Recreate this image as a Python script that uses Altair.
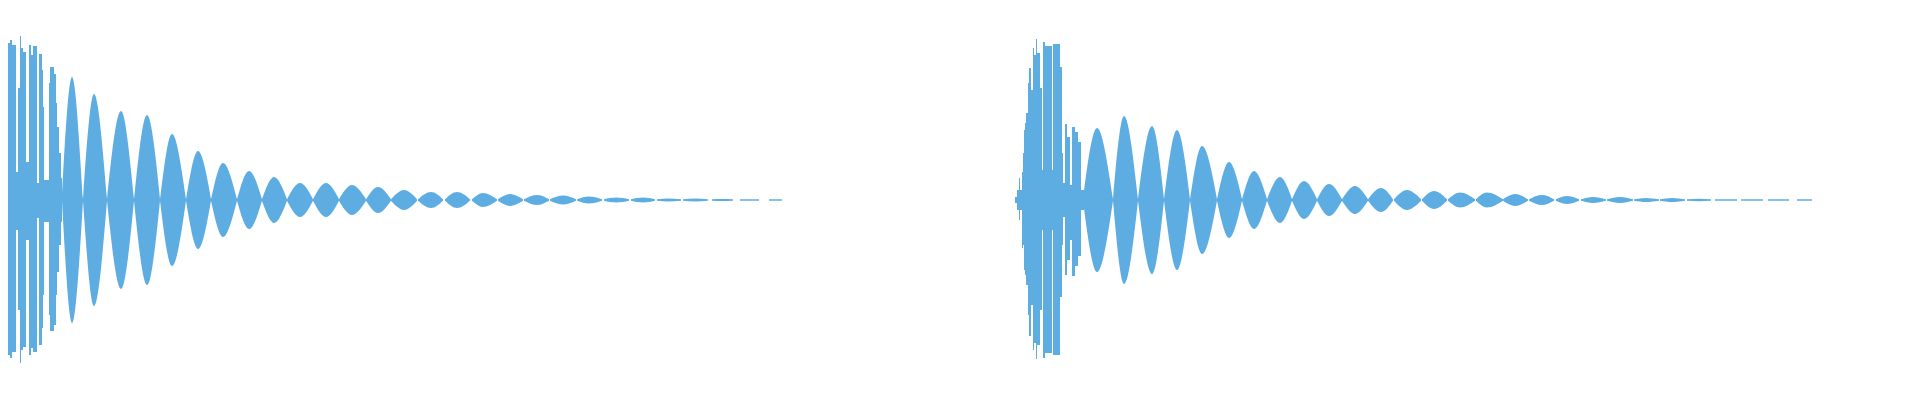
import altair as alt
import pandas as pd

COLOR = "#5DADE2"

# ---- Waveform 1: dense onset (column spans, top / bottom amplitude in px) ----
N1_X0 = [0, 1, 2, 4, 5, 7, 8, 10, 12, 16, 18, 20, 21, 23, 26, 29, 31, 33, 37, 39, 42, 43, 44, 49, 50, 54, 56, 57, 59, 61]
N1_X1 = [1, 2, 4, 5, 7, 8, 10, 12, 16, 18, 20, 21, 23, 26, 29, 31, 33, 37, 39, 42, 43, 44, 49, 50, 54, 56, 57, 59, 61, 62]
N1_TOP = [130, 171, 60, 74, 155, 166, 157, 160, 155, 28, 112, 164, 152, 148, 38, 155, 145, 154, 17, 146, 130, 93, 20, 117, 133, 126, 97, 73, 47, 22]
N1_BOT = [130, 170, 55, 72, 153, 165, 155, 158, 152, 30, 110, 163, 150, 147, 40, 155, 148, 152, 18, 145, 128, 95, 22, 115, 131, 125, 95, 72, 45, 22]

# ---- Waveform 1: decaying beat lobes (start, peak, end, peak amplitude) ----
L1_START = [62, 83, 107, 134, 160, 186, 211, 237, 262, 287, 313, 339, 366, 391, 418, 445, 472, 498, 524, 550, 577, 604, 631, 657, 683, 712, 740, 769]
L1_PEAK = [72, 94, 121, 147, 172, 198, 223, 249, 274, 300, 326, 352, 378, 404, 431, 457, 483, 510, 537, 563, 589, 616, 643, 668, 695, 722, 750, 775]
L1_END = [83, 107, 134, 160, 186, 211, 237, 262, 287, 313, 339, 366, 391, 417, 443, 470, 497, 523, 549, 576, 602, 629, 655, 681, 708, 733, 759, 782]
L1_AMP = [123, 106, 89, 85, 66, 49, 37, 29, 23, 17, 17, 15, 13, 10, 8, 8, 7, 6, 5, 4.5, 3.5, 2.5, 2.5, 1.5, 1.5, 1, 0.7, 0.7]

# ---- Waveform 2: dense onset ----
N2_X0 = [1015, 1017, 1019, 1020, 1022, 1023, 1024, 1025, 1026, 1028, 1029, 1031, 1033, 1034, 1036, 1037, 1040, 1042, 1043, 1045, 1052, 1053, 1060, 1062, 1063, 1065, 1067, 1070, 1072, 1075, 1078, 1081]
N2_X1 = [1017, 1019, 1020, 1022, 1023, 1024, 1025, 1026, 1028, 1029, 1031, 1033, 1034, 1036, 1037, 1040, 1042, 1043, 1045, 1052, 1053, 1060, 1062, 1063, 1065, 1067, 1070, 1072, 1075, 1078, 1081, 1084]
N2_TOP = [3, 10, 22, 10, 28, 47, 70, 77, 87, 117, 132, 110, 152, 145, 161, 147, 112, 30, 158, 154, 30, 156, 133, 47, 17, 76, 63, 15, 73, 68, 58, 10]
N2_BOT = [3, 10, 20, 10, 48, 45, 70, 75, 85, 115, 136, 105, 150, 143, 159, 145, 110, 30, 158, 153, 30, 155, 97, 45, 17, 75, 60, 40, 76, 66, 56, 10]

# ---- Waveform 2: decaying beat lobes ----
L2_START = [1083, 1113, 1138, 1164, 1190, 1217, 1242, 1267, 1292, 1317, 1342, 1368, 1394, 1422, 1448, 1476, 1503, 1529, 1556, 1581, 1607, 1634, 1660, 1687, 1715, 1741, 1768, 1797]
L2_PEAK = [1097, 1124, 1152, 1177, 1202, 1229, 1254, 1280, 1304, 1329, 1355, 1381, 1407, 1434, 1460, 1487, 1515, 1542, 1567, 1593, 1620, 1646, 1672, 1699, 1726, 1752, 1778, 1805]
L2_END = [1113, 1138, 1164, 1190, 1217, 1242, 1267, 1292, 1317, 1342, 1368, 1393, 1421, 1447, 1475, 1503, 1528, 1554, 1579, 1606, 1633, 1659, 1685, 1711, 1737, 1763, 1789, 1812]
L2_AMP = [72, 84, 74, 70, 54, 38, 29, 23, 19, 16, 14, 12, 10, 9, 7.5, 7.5, 6, 5, 4, 3, 3, 2, 2, 1.2, 0.7, 0.7, 0.7, 0.7]

EDGE = 0.75

noise_rows = []
for x0s, x1s, tops, bots in [(N1_X0, N1_X1, N1_TOP, N1_BOT), (N2_X0, N2_X1, N2_TOP, N2_BOT)]:
    for a, b, t, d in zip(x0s, x1s, tops, bots):
        noise_rows.append({"x0": a, "x1": b, "top": t, "bot": -d})
noise = pd.DataFrame(noise_rows)

lobe_rows = []
lid = 0
for st, pk, en, am in [(L1_START, L1_PEAK, L1_END, L1_AMP), (L2_START, L2_PEAK, L2_END, L2_AMP)]:
    for s, p, e, a in zip(st, pk, en, am):
        lid += 1
        edge = min(EDGE, a)
        for xx, aa in [(s, edge), (p, a), (e, edge)]:
            lobe_rows.append({"lobe": lid, "x": xx, "hi": aa, "lo": -aa})
lobes = pd.DataFrame(lobe_rows)

xscale = alt.Scale(domain=[8, 1912], nice=False, zero=False)
yscale = alt.Scale(domain=[-192, 192], nice=False, zero=False)

bars = alt.Chart(noise).mark_rect(color=COLOR, clip=True).encode(
    x=alt.X("x0:Q", scale=xscale, axis=None),
    x2="x1:Q",
    y=alt.Y("top:Q", scale=yscale, axis=None),
    y2="bot:Q",
)

areas = alt.Chart(lobes).mark_area(color=COLOR, interpolate="monotone", clip=True, opacity=1).encode(
    x=alt.X("x:Q", scale=xscale, axis=None),
    y=alt.Y("hi:Q", scale=yscale, axis=None),
    y2="lo:Q",
    detail="lobe:N",
)

chart = alt.layer(bars, areas).properties(
    width=1904, height=384, padding=0, background="white",
    autosize=alt.AutoSizeParams(type="none"),
).configure_view(strokeWidth=0, stroke="transparent")

chart.save("out.html", embed_options={"renderer": "svg", "actions": False})
